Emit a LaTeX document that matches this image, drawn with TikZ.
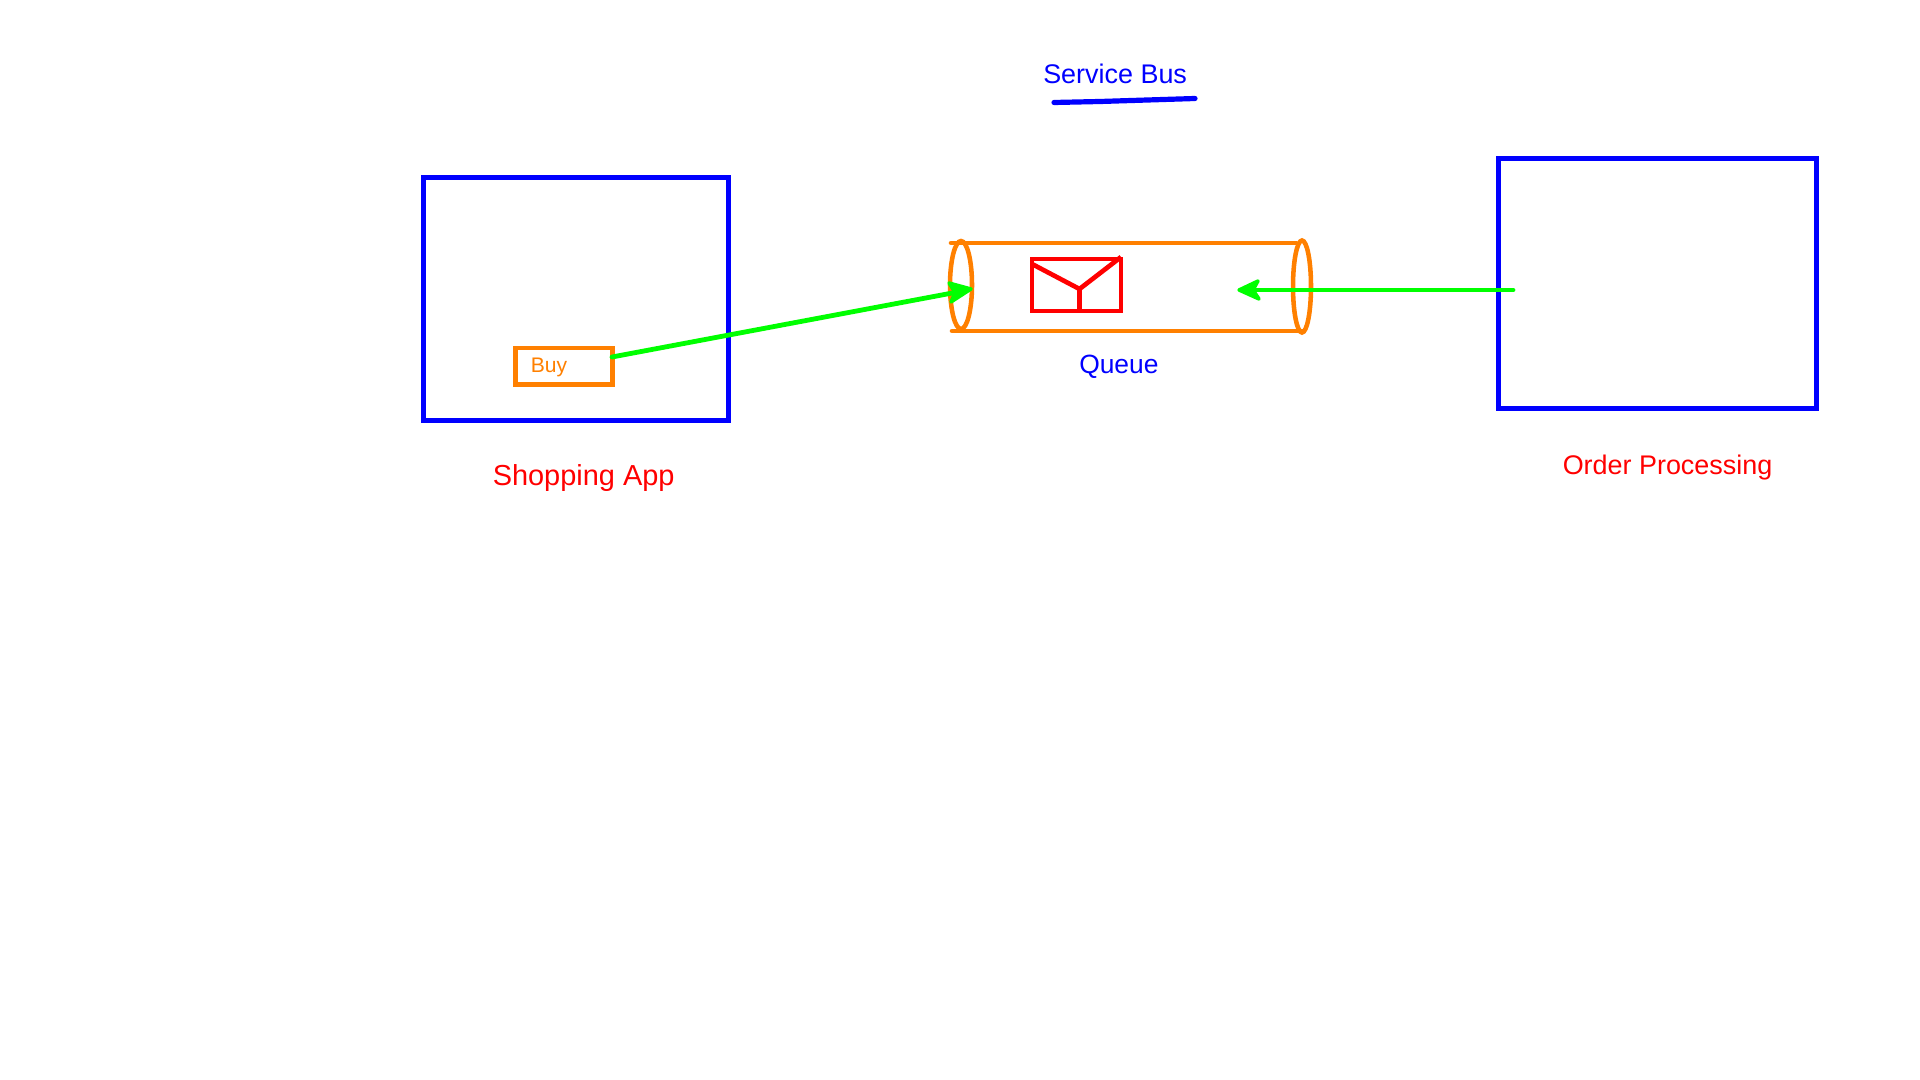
\documentclass[tikz,border=0pt]{standalone}
\usepackage{fontspec}
\setmainfont{Liberation Sans}
\definecolor{pblue}{RGB}{0,0,255}
\definecolor{pred}{RGB}{255,0,0}
\definecolor{porange}{RGB}{255,128,0}
\definecolor{pgreen}{RGB}{0,255,0}
\tikzset{x=0.75pt,y=-0.75pt,
  bluebox/.style={draw=pblue,line width=3.75pt,inner sep=0pt},
  orangeln/.style={draw=porange,line width=3.4pt,line cap=round},
  redln/.style={draw=pred,line width=3.5pt},
  greenln/.style={draw=pgreen,line width=3.6pt,line cap=round},
  greenhead/.style={draw=pgreen,fill=pgreen,line width=2.6pt,line join=round},
  lbl/.style={inner sep=0pt,anchor=base west}}
\begin{document}
\begin{tikzpicture}
\useasboundingbox (0,0) rectangle (1920,1080);
\fill[white] (0,0) rectangle (1920,1080);
% Shopping app
\draw[bluebox] (423.5,178) rectangle (728.5,420.5);
\draw[orangeln,line cap=butt] (515.5,348) rectangle (612.5,384.5);
\node[lbl,text=porange,font=\fontsize{15.8pt}{18pt}\selectfont] (buy) at (530.5,372.5) {Buy};
\coordinate (buyout) at (612,357);
\node[lbl,text=pred,font=\fontsize{21.7pt}{26pt}\selectfont] (shop) at (492.5,485) {Shopping App};
% Title
\node[lbl,text=pblue,font=\fontsize{20.2pt}{24pt}\selectfont] (bus) at (1043,83.5) {Service Bus};
\coordinate (ula) at (1054,102.5);
\coordinate (ulb) at (1100,101.5);
\coordinate (ulc) at (1195,98.5);
\draw[pblue,line width=3.9pt,line cap=round] (ula) -- (ulb) -- (ulc);
% Queue
\draw[orangeln] (951,243) -- (1296,243);
\draw[orangeln] (952,331) -- (1302,331);
\draw[orangeln] (961,285) ellipse (11 and 44);
\draw[orangeln] (1302,286.5) ellipse (9 and 46);
% Envelope
\draw[redln] (1032,259) rectangle (1121,311);
\coordinate (ea) at (1032,264);
\coordinate (eb) at (1079.5,289);
\coordinate (ec) at (1121,257);
\coordinate (ed) at (1079.5,311);
\draw[redln] (ea) -- (eb) -- (ec);
\draw[redln] (eb) -- (ed);
\node[lbl,text=pblue,font=\fontsize{19.8pt}{24pt}\selectfont] (queue) at (1079,373.5) {Queue};
% Order processing
\draw[bluebox] (1498.5,158.5) rectangle (1816.5,408.5);
\node[lbl,text=pred,font=\fontsize{20.2pt}{24pt}\selectfont] (order) at (1562.5,474.5) {Order Processing};
% Arrows
\coordinate (qin) at (971,289);
\coordinate (qa) at (949,283);
\coordinate (qn) at (955,292.5);
\coordinate (qb) at (951,302);
\draw[greenln] (buyout) -- (qn);
\draw[greenhead] (qa) -- (qin) -- (qb) -- (qn) -- cycle;
\coordinate (ordout) at (1513,290);
\coordinate (qtip) at (1239,290);
\coordinate (ra) at (1258,281);
\coordinate (rn) at (1253,290);
\coordinate (rb) at (1259,299);
\draw[greenln] (ordout) -- (rn);
\draw[greenhead] (ra) -- (qtip) -- (rb) -- (rn) -- cycle;
\end{tikzpicture}
\end{document}
